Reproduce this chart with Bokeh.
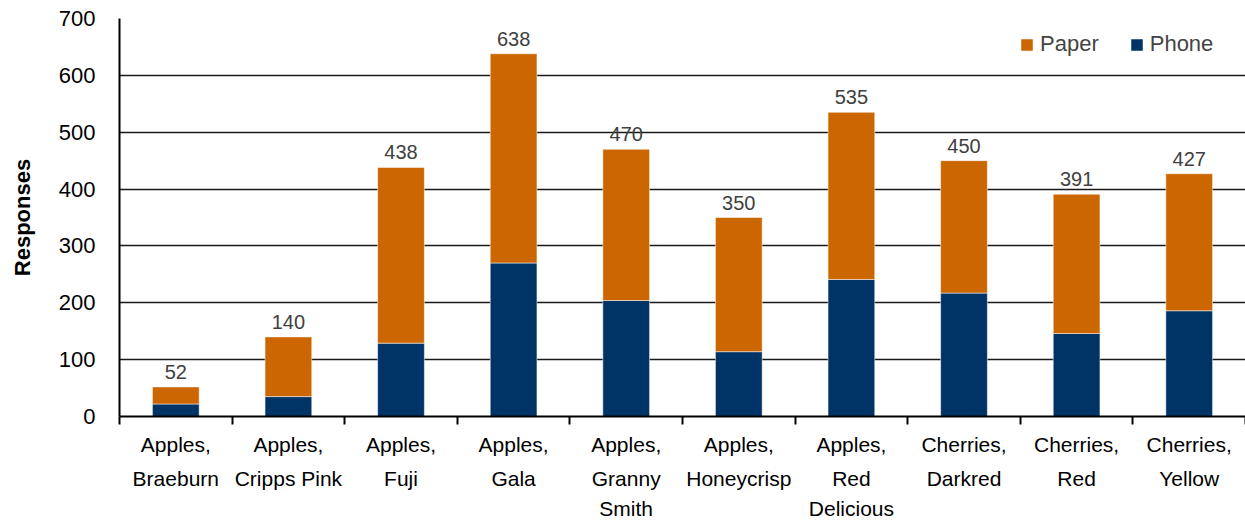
from bokeh.plotting import figure
from bokeh.models import (ColumnDataSource, Range1d, FixedTicker, Legend, LegendItem, LinearAxis)
from bokeh.core.properties import value
from bokeh.embed import file_html
from bokeh.resources import INLINE

categories = ["Apples,\nBraeburn", "Apples,\nCripps Pink", "Apples,\nFuji", "Apples,\nGala",
              "Apples,\nGranny\nSmith", "Apples,\nHoneycrisp", "Apples,\nRed\nDelicious",
              "Cherries,\nDarkred", "Cherries,\nRed", "Cherries,\nYellow"]
phone = [22, 35, 129, 270, 204, 114, 241, 217, 146, 186]
paper = [30, 105, 309, 368, 266, 236, 294, 233, 245, 241]
totals = [52, 140, 438, 638, 470, 350, 535, 450, 391, 427]
y_ticks = [0, 100, 200, 300, 400, 500, 600, 700]

FONT = "Liberation Sans"
ORANGE = "#CC6600"
NAVY = "#003366"

xs = [i + 0.5 for i in range(len(categories))]
src = ColumnDataSource(dict(x=xs, phone=phone, paper=paper, total=totals,
                            label=[str(t) for t in totals]))

p = figure(width=1245, height=522, output_backend="svg", toolbar_location=None,
           x_range=Range1d(0, 10), y_range=Range1d(0, 700),
           min_border_left=119, min_border_right=0, min_border_top=18, min_border_bottom=0)
p.outline_line_color = None
p.background_fill_color = "white"

rs = p.vbar_stack(["phone", "paper"], x="x", width=0.415, source=src,
                  color=[NAVY, ORANGE], line_color="white", line_width=0.5)

p.text(x="x", y="total", text="label", source=src, text_align="center",
       text_baseline="bottom", y_offset=-8, text_font=value(FONT),
       text_font_size="20px", text_color="#404040")

# y axis
p.yaxis.ticker = FixedTicker(ticks=y_ticks)
p.yaxis.axis_line_color = "black"
p.yaxis.axis_line_width = 2
p.yaxis.major_tick_out = 0
p.yaxis.major_tick_in = 0
p.yaxis.minor_tick_line_color = None
p.yaxis.major_label_text_font = FONT
p.yaxis.major_label_text_font_size = "22px"
p.yaxis.major_label_text_color = "black"
p.yaxis.major_label_standoff = 24
p.yaxis.axis_label = "Responses"
p.yaxis.axis_label_text_font = FONT
p.yaxis.axis_label_text_font_style = "bold"
p.yaxis.axis_label_text_font_size = "22px"
p.yaxis.axis_label_text_color = "black"
p.yaxis.axis_label_standoff = 21

# x axis: category labels split into lines, one axis per line
lines = [c.split("\n") for c in categories]
line_labels = [[(l[k] if k < len(l) else "") for l in lines] for k in range(3)]

p.xaxis.ticker = FixedTicker(ticks=xs, minor_ticks=list(range(0, 11)))
p.xaxis.major_label_overrides = {x: t for x, t in zip(xs, line_labels[0])}
p.xaxis.axis_line_color = "black"
p.xaxis.axis_line_width = 2
p.xaxis.major_tick_out = 0
p.xaxis.major_tick_in = 0
p.xaxis.minor_tick_out = 8
p.xaxis.minor_tick_in = 0
p.xaxis.minor_tick_line_color = "black"
p.xaxis.minor_tick_line_width = 2
p.xaxis.major_label_text_font = FONT
p.xaxis.major_label_text_font_size = "21px"
p.xaxis.major_label_text_color = "black"
p.xaxis.major_label_standoff = 8

for k, standoff in ((1, 8), (2, 4)):
    ax = LinearAxis(ticker=FixedTicker(ticks=xs, minor_ticks=[]),
                    major_label_overrides={x: t for x, t in zip(xs, line_labels[k])})
    ax.axis_line_color = None
    ax.major_tick_line_color = None
    ax.minor_tick_line_color = None
    ax.major_tick_out = 0
    ax.major_tick_in = 0
    ax.major_label_text_font = FONT
    ax.major_label_text_font_size = "21px"
    ax.major_label_text_color = "black"
    ax.major_label_standoff = standoff
    p.add_layout(ax, "below")

p.xgrid.grid_line_color = None
p.ygrid.ticker = FixedTicker(ticks=y_ticks)
p.ygrid.grid_line_color = "black"
p.ygrid.grid_line_width = 1.6
p.ygrid.grid_line_alpha = 0.9

legend = Legend(items=[LegendItem(label="Paper", renderers=[rs[1]]),
                       LegendItem(label="Phone", renderers=[rs[0]])],
                orientation="horizontal", location=(900, 359))
legend.border_line_color = None
legend.background_fill_alpha = 0
legend.label_text_font = FONT
legend.label_text_font_size = "22px"
legend.glyph_width = 15
legend.glyph_height = 15
legend.label_standoff = 6
legend.spacing = 30
legend.margin = 0
legend.padding = 8
p.add_layout(legend)

open("out.html", "w").write(file_html(p, INLINE))
